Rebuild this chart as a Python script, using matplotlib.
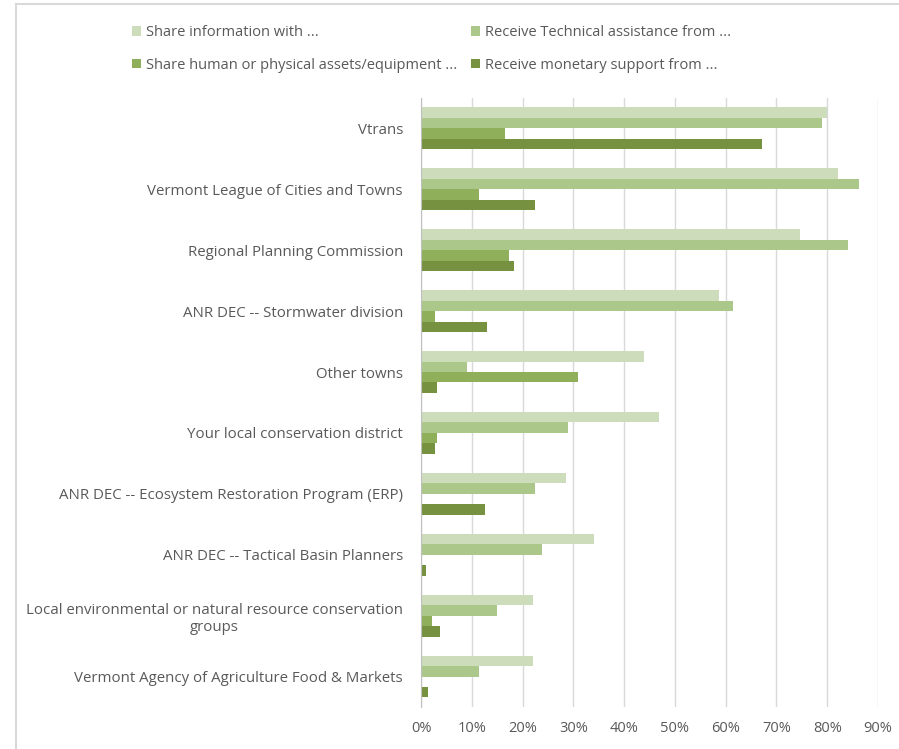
import matplotlib
matplotlib.use("Agg")
import matplotlib.pyplot as plt
from matplotlib.lines import Line2D
from matplotlib.ticker import PercentFormatter

plt.rcParams['font.family'] = ['Open Sans', 'DejaVu Sans']

# categories, top to bottom
orgs = [
    "Vtrans",
    "Vermont League of Cities and Towns",
    "Regional Planning Commission",
    "ANR DEC -- Stormwater division",
    "Other towns",
    "Your local conservation district",
    "ANR DEC -- Ecosystem Restoration Program (ERP)",
    "ANR DEC -- Tactical Basin Planners",
    "Local environmental or natural resource conservation\ngroups",
    "Vermont Agency of Agriculture Food & Markets",
]

# shares (fraction of respondents)
share_info = [0.799, 0.821, 0.747, 0.586, 0.439, 0.468, 0.286, 0.341, 0.220, 0.220]
tech_assist = [0.789, 0.862, 0.841, 0.614, 0.090, 0.289, 0.224, 0.239, 0.150, 0.114]
share_assets = [0.166, 0.114, 0.174, 0.028, 0.309, 0.032, 0.0, 0.0, 0.021, 0.0]
monetary = [0.671, 0.224, 0.184, 0.130, 0.032, 0.028, 0.127, 0.009, 0.037, 0.013]

series = [
    ("Share information with ...", share_info, "#cddcbb"),
    ("Receive Technical assistance from ...", tech_assist, "#abc78a"),
    ("Share human or physical assets/equipment ...", share_assets, "#8faf5a"),
    ("Receive monetary support from ...", monetary, "#76913f"),
]

fig = plt.figure(figsize=(8.99, 7.49), dpi=100)
ax = fig.add_axes([0.4683, 0.0561, 0.9766 - 0.4683, 0.8692 - 0.0561])

h = 0.172
ypos = list(range(len(orgs)))
for k, (name, vals, col) in enumerate(series):
    off = (k - 1.5) * h
    ax.barh([y + off for y in ypos], vals, height=h, color=col, label=name)

ax.set_xlim(0, 0.9)
ax.set_ylim(len(orgs) - 0.5, -0.5)
ax.set_xticks([i / 10 for i in range(10)])
ax.xaxis.set_major_formatter(PercentFormatter(1.0, decimals=0))
ax.set_yticks(ypos)
ax.set_yticklabels(orgs, multialignment="center", linespacing=1.25)
ax.tick_params(axis="both", length=0, colors="#595959", labelsize=10.8)
ax.tick_params(axis="x", labelsize=10.5, pad=10)
ax.tick_params(axis="y", pad=13)
ax.grid(axis="x", color="#d9d9d9", linewidth=1)
ax.set_axisbelow(True)
for s in ["top", "right", "bottom"]:
    ax.spines[s].set_visible(False)
ax.spines["left"].set_color("#bfbfbf")

# legend: column 1 = share info / share assets, column 2 = tech / monetary
handles, labels = ax.get_legend_handles_labels()
order = [0, 2, 1, 3]
leg = fig.legend([handles[i] for i in order], [labels[i] for i in order],
                 ncol=2, loc="upper left", bbox_to_anchor=(0.132, 0.984),
                 frameon=False, fontsize=10.5, handlelength=0.6, handleheight=0.6,
                 handletextpad=0.35, labelspacing=1.2, columnspacing=0.95)
for t in leg.get_texts():
    t.set_color("#595959")

# outer frame (left and top edges)
fig.add_artist(Line2D([0.018, 0.018], [0.0, 0.994], color="#d9d9d9", linewidth=1.5))
fig.add_artist(Line2D([0.018, 1.0], [0.994, 0.994], color="#d9d9d9", linewidth=1.5))

fig.savefig("out.png", dpi=100)
